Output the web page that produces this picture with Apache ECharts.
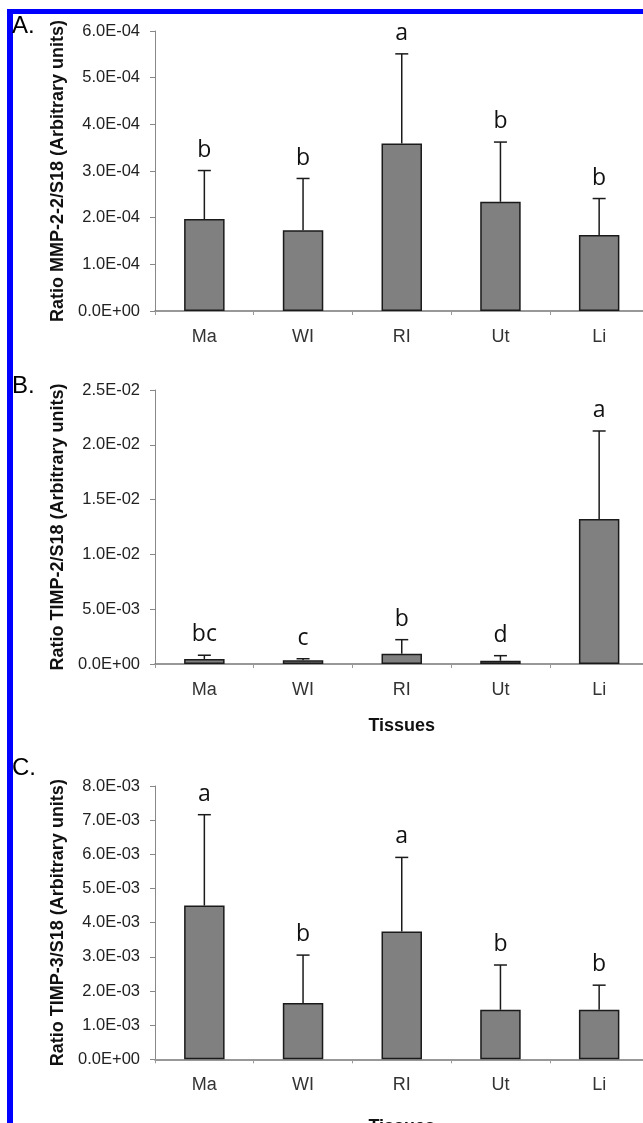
<!DOCTYPE html>
<html lang="en">
<head>
    <meta charset="utf-8">
    <script src="https://cdn.jsdelivr.net/npm/echarts@6/dist/echarts.min.js"></script>
    <style>
        html, body { margin: 0; padding: 0; background: #fff; }
        #main { width: 643px; height: 1123px; }
    </style>
</head>
<body>
<div id="main"></div>
<script type="text/javascript">
    // tissues on the x axis
    var tissues = ['Ma', 'WI', 'RI', 'Ut', 'Li'];

    // A. MMP-2/S18
    var mmp2Mean = [1.97e-4, 1.73e-4, 3.59e-4, 2.34e-4, 1.63e-4];
    var mmp2Upper = [3.01e-4, 2.84e-4, 5.51e-4, 3.62e-4, 2.41e-4];
    var mmp2Letters = ['b', 'b', 'a', 'b', 'b'];

    // B. TIMP-2/S18
    var timp2Mean = [4.6e-4, 3.4e-4, 9.4e-4, 3.0e-4, 1.323e-2];
    var timp2Upper = [8.0e-4, 4.8e-4, 2.22e-3, 7.6e-4, 2.126e-2];
    var timp2Letters = ['bc', 'c', 'b', 'd', 'a'];

    // C. TIMP-3/S18
    var timp3Mean = [4.50e-3, 1.65e-3, 3.74e-3, 1.45e-3, 1.45e-3];
    var timp3Upper = [7.16e-3, 3.05e-3, 5.91e-3, 2.76e-3, 2.17e-3];
    var timp3Letters = ['a', 'b', 'a', 'b', 'b'];

    // y axis ranges
    var yMax = [6e-4, 2.5e-2, 8e-3];
    var yStep = [1e-4, 5e-3, 1e-3];
    var yNames = ['Ratio MMP-2-2/S18 (Arbitrary units)', 'Ratio TIMP-2/S18 (Arbitrary units)', 'Ratio TIMP-3/S18 (Arbitrary units)'];
    var xNames = ['', 'Tissues', 'Tissues'];
    var panelTags = ['A.', 'B.', 'C.'];

    var chart = echarts.init(document.getElementById('main'));

    function sci(v) {
        var s = Number(v).toExponential(1).toUpperCase();
        var m = s.split('E');
        var sign = m[1].charAt(0);
        var e = m[1].slice(1);
        if (e.length < 2) e = '0' + e;
        return m[0] + 'E' + sign + e;
    }

    // grids run past the right edge, like the cropped original
    var grids = [
        {left: 155, top: 31, width: 493.5, height: 280, outerBoundsMode: 'none', containLabel: false},
        {left: 155, top: 390, width: 493.5, height: 274, outerBoundsMode: 'none', containLabel: false},
        {left: 155, top: 786, width: 493.5, height: 273.3, outerBoundsMode: 'none', containLabel: false}
    ];
    var tagTops = [14, 374, 756];
    var xNameGaps = [0, 53, 59];

    var xAxes = [], yAxes = [], series = [];
    var means = [mmp2Mean, timp2Mean, timp3Mean];
    var uppers = [mmp2Upper, timp2Upper, timp3Upper];
    var letters = [mmp2Letters, timp2Letters, timp3Letters];

    for (var k = 0; k < 3; k++) {
        xAxes.push({
            type: 'category', gridIndex: k, data: tissues,
            name: xNames[k], nameLocation: 'middle', nameGap: xNameGaps[k],
            nameTextStyle: {fontFamily: 'Liberation Sans, Arial', fontWeight: 'bold', fontSize: 18, color: '#111'},
            axisLine: {lineStyle: {color: '#777', width: 1.5}},
            axisTick: {show: true, length: 4, lineStyle: {color: '#999'}},
            axisLabel: {margin: 17, fontSize: 18, color: '#333', fontFamily: 'Liberation Sans, Arial'}
        });
        yAxes.push({
            type: 'value', gridIndex: k, min: 0, max: yMax[k], interval: yStep[k],
            name: yNames[k], nameLocation: 'middle', nameGap: 88,
            nameTextStyle: {fontFamily: 'Liberation Sans, Arial', fontWeight: 'bold', fontSize: 18, color: '#111'},
            axisLine: {show: true, lineStyle: {color: '#888', width: 1}},
            axisTick: {show: true, length: 5, lineStyle: {color: '#888'}},
            splitLine: {show: false},
            axisLabel: {margin: 15, fontSize: 16.5, color: '#222', fontFamily: 'Liberation Sans, Arial', formatter: sci}
        });
        series.push({
            type: 'bar', xAxisIndex: k, yAxisIndex: k, barWidth: '41%',
            data: means[k],
            itemStyle: {color: '#808080', borderColor: '#1a1a1a', borderWidth: 1.5},
            silent: true
        });
        series.push(makeErrors(k));
    }

    function makeErrors(k) {
        var data = [];
        for (var i = 0; i < tissues.length; i++) {
            data.push([i, means[k][i], uppers[k][i]]);
        }
        return {
            type: 'custom', xAxisIndex: k, yAxisIndex: k, z: 3,
            data: data,
            encode: {x: 0, y: 2},
            renderItem: function (params, api) {
                var base = api.coord([api.value(0), api.value(1)]);
                var top = api.coord([api.value(0), api.value(2)]);
                var ls = {stroke: '#1a1a1a', lineWidth: 1.5};
                return {
                    type: 'group',
                    children: [
                        {type: 'line', shape: {x1: base[0], y1: base[1], x2: top[0], y2: top[1]}, style: ls},
                        {type: 'line', shape: {x1: top[0] - 6.5, y1: top[1], x2: top[0] + 6.5, y2: top[1]}, style: ls},
                        {type: 'text', x: top[0], y: top[1] - 9, style: {
                            text: letters[k][params.dataIndex], fill: '#111',
                            font: '23px "Open Sans"', textAlign: 'center', textVerticalAlign: 'bottom'
                        }}
                    ]
                };
            }
        };
    }

    var graphics = [
        {type: 'rect', shape: {x: 7, y: 9, width: 636, height: 5}, style: {fill: '#0000ff'}},
        {type: 'rect', shape: {x: 7, y: 9, width: 6, height: 1114}, style: {fill: '#0000ff'}}
    ];
    for (var t = 0; t < 3; t++) {
        graphics.push({type: 'text', left: 12, top: tagTops[t], style: {text: panelTags[t], font: '24px "Liberation Sans"', fill: '#000'}});
    }

    chart.setOption({
        animation: false,
        backgroundColor: '#fff',
        grid: grids,
        xAxis: xAxes,
        yAxis: yAxes,
        series: series,
        graphic: graphics
    });
</script>
</body>
</html>
